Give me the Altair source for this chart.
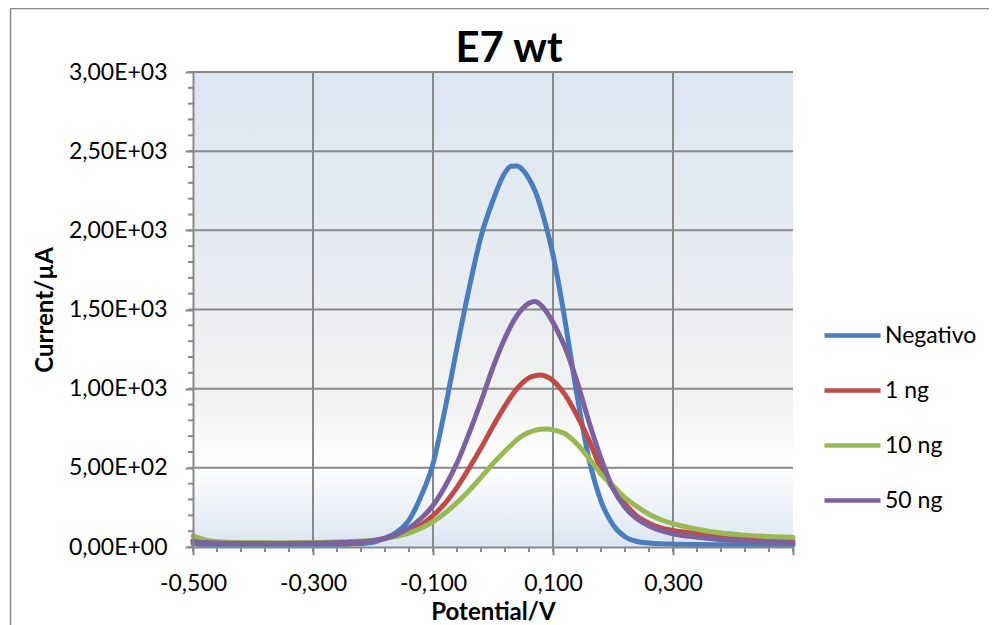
import altair as alt
import pandas as pd

# ---------------- data ----------------
potential = [-0.50, -0.48, -0.45, -0.40, -0.35, -0.30, -0.25, -0.20, -0.18, -0.16,
             -0.14, -0.12, -0.10, -0.08, -0.06, -0.04, -0.02, 0.00, 0.02, 0.03,
             0.04, 0.05, 0.06, 0.07, 0.08, 0.09, 0.10, 0.11, 0.12, 0.14,
             0.16, 0.18, 0.20, 0.22, 0.24, 0.26, 0.28, 0.30, 0.34, 0.38,
             0.42, 0.46, 0.50]

negativo = [20, 14, 12, 12, 12, 13, 16, 30, 55, 95,
            170, 320, 525, 870, 1260, 1630, 1960, 2190, 2365, 2405,
            2407, 2380, 2325, 2250, 2140, 2005, 1845, 1650, 1430, 960,
            555, 290, 140, 65, 35, 25, 20, 18, 16, 15,
            15, 15, 15]

ng_1 = [40, 30, 25, 22, 22, 23, 27, 40, 53, 76,
        100, 139, 199, 276, 377, 497, 625, 763, 891, 950,
        1000, 1040, 1068, 1082, 1086, 1075, 1050, 1012, 962, 830,
        675, 490, 370, 272, 195, 150, 120, 105, 85, 70,
        57, 46, 36]

ng_10 = [70, 45, 32, 28, 27, 28, 33, 42, 54, 68,
         88, 118, 160, 215, 280, 355, 440, 527, 605, 643,
         678, 705, 724, 737, 744, 745, 740, 730, 715, 650,
         560, 460, 387, 312, 255, 207, 172, 147, 112, 88,
         75, 66, 61]

ng_50 = [35, 28, 24, 22, 22, 23, 28, 40, 55, 80,
         120, 180, 262, 382, 530, 717, 919, 1135, 1320, 1398,
         1462, 1510, 1540, 1550, 1527, 1480, 1418, 1345, 1262, 1045,
         790, 560, 370, 250, 178, 133, 103, 83, 62, 48,
         38, 32, 27]

series_names = ["Negativo", "1 ng", "10 ng", "50 ng"]
series_colors = ["#4A7EBB", "#BE4B48", "#98B954", "#7D60A0"]

chart_title = "E7 wt"
x_title = "Potential/V"
y_title = "Current/µA"

x_major = [-0.5, -0.3, -0.1, 0.1, 0.3, 0.5]
x_major_labels = ["-0,500", "-0,300", "-0,100", "0,100", "0,300", ""]
y_major = [0, 500, 1000, 1500, 2000, 2500, 3000]
y_major_labels = ["0,00E+00", "5,00E+02", "1,00E+03", "1,50E+03",
                  "2,00E+03", "2,50E+03", "3,00E+03"]
x_grid = [-0.3, -0.1, 0.1, 0.3]
y_grid = [500, 1000, 1500, 2000, 2500, 3000]
x_minor = [round(-0.5 + 0.04 * i, 2) for i in range(26)]
y_minor = list(range(0, 3001, 100))

# ---------------- layout / style ----------------
W, H = 600, 475
FONT = "Lato"
GRAY = "#898989"

all_series = [negativo, ng_1, ng_10, ng_50]
rows = []
for order, (name, vals) in enumerate(zip(series_names, all_series)):
    for xv, yv in zip(potential, vals):
        rows.append({"potential": xv, "current": yv, "serie": name, "ord": order})
df = pd.DataFrame(rows)

x_scale = alt.Scale(domain=[-0.5, 0.5], nice=False, zero=False)
y_scale = alt.Scale(domain=[0, 3000], nice=False)


def label_expr(vals, labels):
    expr = "''"
    for v, lab in reversed(list(zip(vals, labels))):
        expr = f"abs(datum.value - ({v})) < 0.000001 ? '{lab}' : ({expr})"
    return expr


x_axis = alt.Axis(
    values=x_major, labelExpr=label_expr(x_major, x_major_labels), grid=False,
    domainColor=GRAY, domainWidth=2, tickColor=GRAY, tickWidth=2, tickSize=8,
    labelFont=FONT, labelFontSize=23, labelColor="black", labelPadding=17,
    labelFlush=False, labelOverlap=False,
    title=x_title, titleFont=FONT, titleFontSize=24, titleFontWeight="bold",
    titleColor="black", titleX=W / 2, titleY=72, titleBaseline="alphabetic",
    titleAnchor="middle", zindex=1,
)
y_axis = alt.Axis(
    values=y_major, labelExpr=label_expr(y_major, y_major_labels), grid=False,
    domainColor=GRAY, domainWidth=2, tickColor=GRAY, tickWidth=2, tickSize=8,
    labelFont=FONT, labelFontSize=23, labelColor="black", labelPadding=18,
    labelFlush=False, labelOverlap=False,
    title=y_title, titleFont=FONT, titleFontSize=24, titleFontWeight="bold",
    titleColor="black", titleX=-148, titleY=H / 2, titleAngle=-90,
    titleBaseline="middle", titleAnchor="middle", zindex=1,
)

one = pd.DataFrame({"k": [0]})

background = alt.Chart(one).mark_rect(
    color=alt.LinearGradient(
        gradient="linear", x1=0, x2=0, y1=0, y2=1,
        stops=[
            alt.GradientStop(offset=0, color="#DCE6F2"),
            alt.GradientStop(offset=0.45, color="#E8ECF1"),
            alt.GradientStop(offset=0.70, color="#F2F2F2"),
            alt.GradientStop(offset=0.83, color="#FFFFFF"),
            alt.GradientStop(offset=1, color="#DBE5F1"),
        ],
    )
).encode(x=alt.value(0), x2=alt.value(W), y=alt.value(0), y2=alt.value(H))

grid_x = alt.Chart(pd.DataFrame({"gx": x_grid})).mark_rule(
    color=GRAY, strokeWidth=2
).encode(x=alt.X("gx:Q", scale=x_scale, axis=x_axis, title=x_title))

grid_y = alt.Chart(pd.DataFrame({"gy": y_grid})).mark_rule(
    color=GRAY, strokeWidth=2
).encode(y=alt.Y("gy:Q", scale=y_scale, axis=y_axis, title=y_title))

minor_x = alt.Chart(pd.DataFrame({"mx": x_minor})).mark_rule(
    color=GRAY, strokeWidth=2
).encode(x=alt.X("mx:Q", scale=x_scale, axis=x_axis, title=x_title),
         y=alt.value(H), y2=alt.value(H + 5))

minor_y = alt.Chart(pd.DataFrame({"my": y_minor})).mark_rule(
    color=GRAY, strokeWidth=2
).encode(y=alt.Y("my:Q", scale=y_scale, axis=y_axis, title=y_title),
         x=alt.value(-5), x2=alt.value(0))

lines = alt.Chart(df).mark_line(
    strokeWidth=5, interpolate="monotone", strokeCap="round", strokeJoin="round"
).encode(
    x=alt.X("potential:Q", scale=x_scale, axis=x_axis, title=x_title),
    y=alt.Y("current:Q", scale=y_scale, axis=y_axis, title=y_title),
    color=alt.Color(
        "serie:N",
        scale=alt.Scale(domain=series_names, range=series_colors),
        sort=series_names,
        legend=alt.Legend(
            orient="none", legendX=629, legendY=233, title=None,
            symbolType="stroke", symbolSize=3136, symbolStrokeWidth=4.5,
            labelFont=FONT, labelFontSize=23, labelColor="black",
            labelOffset=2, rowPadding=12, padding=0,
        ),
    ),
    order=alt.Order("potential:Q"),
    detail="ord:O",
)

title = alt.Chart(pd.DataFrame({"t": [chart_title]})).mark_text(
    font=FONT, fontSize=42, fontWeight="bold", align="center",
    baseline="alphabetic", color="black"
).encode(x=alt.value(316), y=alt.value(-10), text="t:N")

border = alt.Chart(one).mark_rect(
    fillOpacity=0, stroke=GRAY, strokeWidth=1.5
).encode(x=alt.value(-182.5), x2=alt.value(900), y=alt.value(-63.5), y2=alt.value(800))

chart = alt.layer(
    background, grid_x, grid_y, minor_x, minor_y, lines, title, border
).properties(
    width=W, height=H,
    autosize=alt.AutoSizeParams(type="none"),
    padding={"left": 185, "top": 64, "right": 196, "bottom": 80},
).configure_view(stroke="transparent")

chart.save("out.html", embed_options={"renderer": "svg", "actions": False})
